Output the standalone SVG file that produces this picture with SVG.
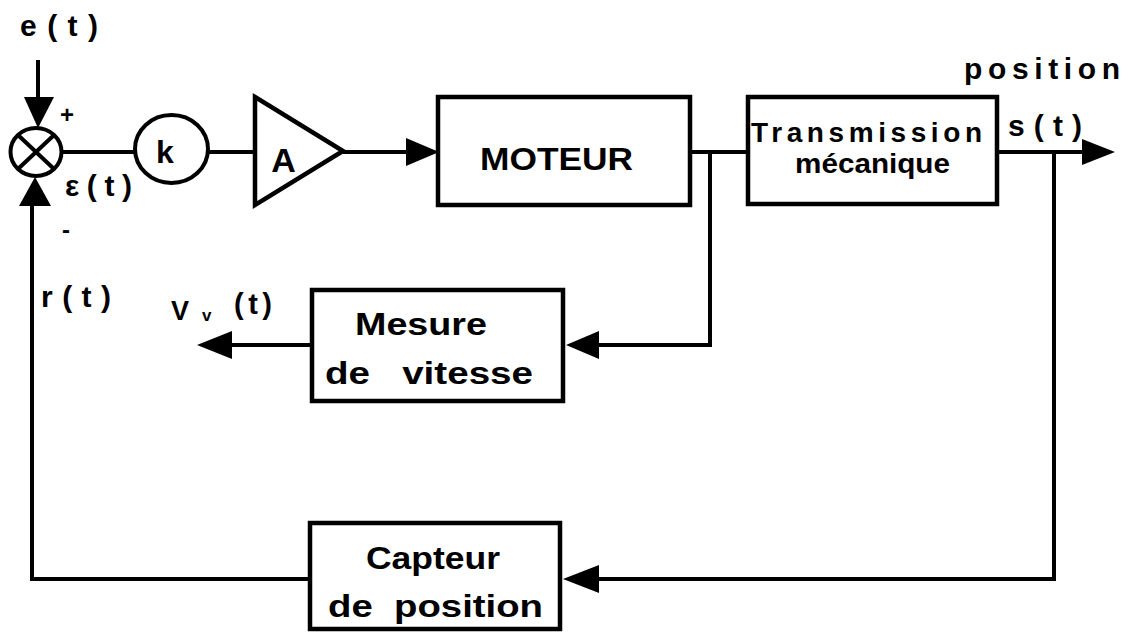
<svg xmlns="http://www.w3.org/2000/svg" width="1128" height="632" viewBox="0 0 1128 632">
<style>
.box{fill:#fff;stroke:#000;stroke-width:4.5}
.ln{fill:none;stroke:#000;stroke-width:4}
.ah{fill:#000;stroke:none}
text{font-family:"Liberation Sans",Arial,sans-serif;font-weight:bold;fill:#000}
.t30{font-size:30px}
.t28{font-size:28px}
.b{font-size:32px}
</style>
<rect width="1128" height="632" fill="#fff"/>
<g id="connectors">
<line class="ln" x1="38" y1="60" x2="38" y2="100"/>
<polygon class="ah" points="24,97 54,97 38,128"/>
<line class="ln" x1="61" y1="152" x2="135" y2="152"/>
<line class="ln" x1="208" y1="152" x2="255" y2="152"/>
<line class="ln" x1="343" y1="152" x2="410" y2="152"/>
<polygon class="ah" points="406,138 406,166 439,152"/>
<line class="ln" x1="690" y1="152" x2="748" y2="152"/>
<polyline class="ln" points="710,152 710,345 596,345"/>
<polygon class="ah" points="599,331 599,359 566,345"/>
<line class="ln" x1="997" y1="152" x2="1085" y2="152"/>
<polygon class="ah" points="1082,139 1082,165 1115,152"/>
<polyline class="ln" points="1054,152 1054,579 596,579"/>
<polygon class="ah" points="599,565 599,593 563,579"/>
<line class="ln" x1="312" y1="345" x2="228" y2="345"/>
<polygon class="ah" points="232,331 232,359 197,345"/>
<polyline class="ln" points="310,579 32,579 32,202"/>
<polygon class="ah" points="19,206 51,206 35,177"/>
</g>
<g id="sum">
<ellipse cx="36" cy="152" rx="25.5" ry="24" fill="#fff" stroke="#000" stroke-width="4"/>
<line class="ln" x1="18" y1="135" x2="54" y2="169"/>
<line class="ln" x1="54" y1="135" x2="18" y2="169"/>
</g>
<g id="k">
<ellipse cx="171.5" cy="149" rx="36.5" ry="34" fill="#fff" stroke="#000" stroke-width="4"/>
<text x="165" y="163" font-size="32" text-anchor="middle">k</text>
</g>
<g id="amp">
<polygon points="255,97 343,151 255,205" fill="#fff" stroke="#000" stroke-width="4.5" stroke-linejoin="miter"/>
<text x="283.5" y="172" font-size="34" text-anchor="middle">A</text>
</g>
<g id="moteur">
<rect class="box" x="438" y="97" width="252" height="108"/>
<text x="480" y="170" font-size="32" textLength="153" lengthAdjust="spacingAndGlyphs">MOTEUR</text>
</g>
<g id="transmission">
<rect class="box" x="748" y="97" width="249" height="107"/>
<text class="t28" x="751" y="142" textLength="231" lengthAdjust="spacing">Transmission</text>
<text class="t28" x="795" y="173" textLength="155" lengthAdjust="spacingAndGlyphs">mécanique</text>
</g>
<g id="mesure">
<rect class="box" x="312" y="290" width="251" height="111"/>
<text class="b" x="355" y="335" textLength="132" lengthAdjust="spacingAndGlyphs">Mesure</text>
<text class="b" x="325" y="384" textLength="208" lengthAdjust="spacingAndGlyphs" xml:space="preserve">de   vitesse</text>
</g>
<g id="capteur">
<rect class="box" x="310" y="523" width="250" height="106"/>
<text class="b" x="366" y="569" textLength="134" lengthAdjust="spacingAndGlyphs">Capteur</text>
<text class="b" x="328" y="617" textLength="215" lengthAdjust="spacingAndGlyphs" xml:space="preserve">de  position</text>
</g>
<g id="labels">
<text class="t30" x="20" y="36" textLength="78" lengthAdjust="spacing">e(t)</text>
<text x="67" y="123" font-size="24" font-weight="normal" text-anchor="middle">+</text>
<text class="t30" x="65" y="196" textLength="67" lengthAdjust="spacing">ε(t)</text>
<text x="66" y="238" font-size="24" font-weight="normal" text-anchor="middle">-</text>
<text class="t30" x="41" y="307" textLength="70" lengthAdjust="spacing">r(t)</text>
<text x="171" y="320" font-size="27">V</text>
<text x="202" y="321" font-size="17">v</text>
<text x="234" y="314" font-size="29" textLength="38" lengthAdjust="spacing">(t)</text>
<text class="t30" x="964" y="79" textLength="156" lengthAdjust="spacing">position</text>
<text class="t30" x="1008" y="136" textLength="74" lengthAdjust="spacing">s(t)</text>
</g>
</svg>
